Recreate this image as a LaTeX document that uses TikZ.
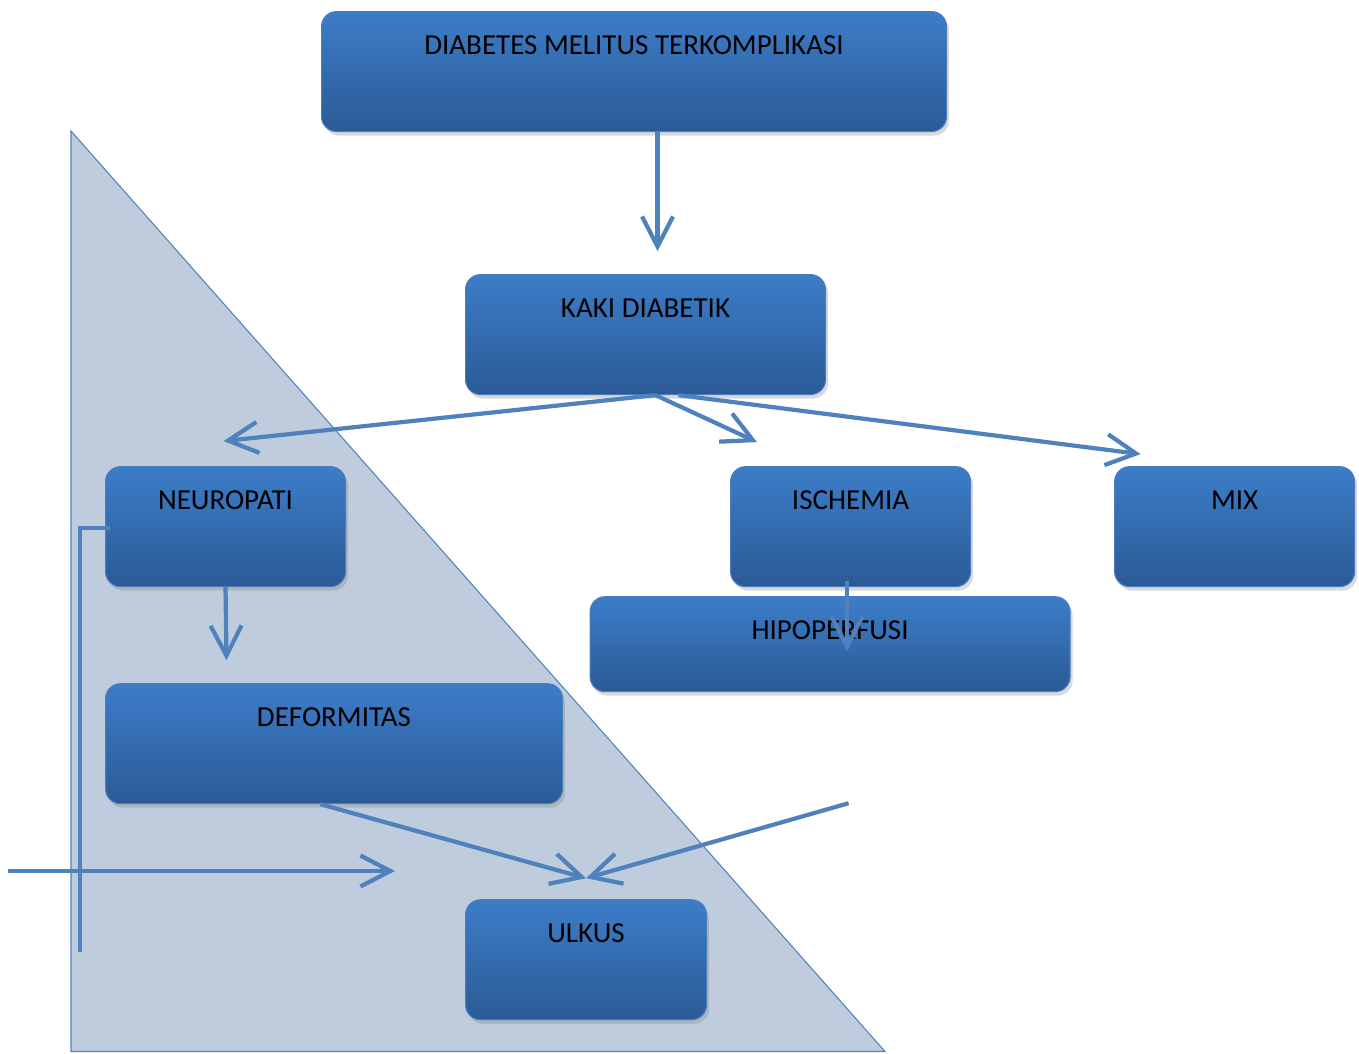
\documentclass[tikz,border=0pt]{standalone}
\usepackage{fontspec}
\setmainfont{Carlito}
\usepackage{tikz}
\usepackage{xcolor}
\usetikzlibrary{arrows.meta, positioning, shadows, calc}
\definecolor{boxTop}{RGB}{60, 125, 200}
\definecolor{boxBottom}{RGB}{43, 90, 150}
\definecolor{boxEdge}{RGB}{75, 125, 190}
\definecolor{lineColor}{RGB}{79, 129, 189}
\definecolor{triFill}{RGB}{191, 204, 221}

\begin{document}
\begin{tikzpicture}[node distance=1cm]

% Style definitions
\tikzset{
    box/.style={
        rectangle, draw=boxEdge, line width=0.6pt, rounded corners=0.3cm,
        top color=boxTop, bottom color=boxBottom, align=center,
        font=\fontsize{16.5}{20}\selectfont, text=black,
        inner ysep=0pt, text height=0.85cm, text depth=1.55cm,
        drop shadow={opacity=0.3, shadow xshift=0.05cm, shadow yshift=-0.08cm}
    },
    wire/.style={
        draw=lineColor, line width=2.4pt, -{Straight Barb[length=6mm, width=6.2mm]}
    },
    bar/.style={draw=lineColor, line width=2.4pt}
}

\useasboundingbox (0,0) rectangle (27.18,-21.06);

% Background triangle
\filldraw [fill=triFill, draw=lineColor, line width=0.6pt]
    (1.42,-2.62) -- (1.42,-21.03) -- (17.7,-21.03) -- cycle;

% Top level
\node (dm) [box, minimum width=12.5cm, anchor=north west] at (6.42,-0.22) {DIABETES MELITUS TERKOMPLIKASI};

\node (kaki) [box, minimum width=7.2cm, below=2.84cm of dm, xshift=0.23cm] {KAKI DIABETIK};

% Three branches
\node (neuropati) [box, minimum width=4.8cm, below=1.42cm of kaki, xshift=-8.4cm] {NEUROPATI};
\node (ischemia) [box, minimum width=4.8cm, right=7.68cm of neuropati] {ISCHEMIA};
\node (mix) [box, minimum width=4.8cm, right=2.86cm of ischemia] {MIX};

\node (hipo) [box, minimum width=9.6cm, text depth=1.05cm, below=0.18cm of ischemia, xshift=-0.41cm] {HIPOPERFUSI};

\node (deform) [box, minimum width=9.14cm, below=1.92cm of neuropati, xshift=2.17cm] {DEFORMITAS};

\node (ulkus) [box, minimum width=4.82cm, below=1.9cm of deform, xshift=5.04cm] {ULKUS};

% Connections
\coordinate (kaki_in) at ($(kaki.north)+(0.24,0.46)$);
\draw [wire] (dm.south -| kaki_in) -- (kaki_in);

\coordinate (split) at ($(kaki.south)+(0.2,0)$);
\coordinate (neuro_in) at ($(neuropati.north)+(-0.04,0.5)$);
\coordinate (isch_in) at ($(ischemia.north)+(-1.87,0.48)$);
\coordinate (mix_in) at ($(mix.north)+(-1.88,0.24)$);
\draw [wire] (split) -- (neuro_in);
\draw [wire] (split) -- (isch_in);
\draw [wire] ($(kaki.south)+(0.66,0)$) -- (mix_in);

\coordinate (deform_in) at ($(neuropati.south |- deform.north)+(0.02,0.46)$);
\draw [wire] (neuropati.south) -- (deform_in);

\coordinate (hipo_in) at ($(hipo.north)+(0.34,-1.1)$);
\draw [wire] ($(ischemia.south)+(-0.07,0.12)$) -- (hipo_in);

\coordinate (ulkus_in) at ($(ulkus.north)+(0,0.42)$);
\coordinate (right_in) at ($(ulkus.north)+(5.25,1.92)$);
\draw [wire] ($(deform.south)+(-0.27,0)$) -- (ulkus_in);
\draw [wire] (right_in) -- (ulkus_in);

\coordinate (left_in) at (0.16,-17.42);
\coordinate (left_tip) at (7.9,-17.42);
\draw [wire] (left_in) -- (left_tip);

% Bracket line
\draw [bar] ($(neuropati.west)+(0.1,-0.03)$) -- ++(-0.6,0) -- ++(0,-8.48);

\end{tikzpicture}
\end{document}
